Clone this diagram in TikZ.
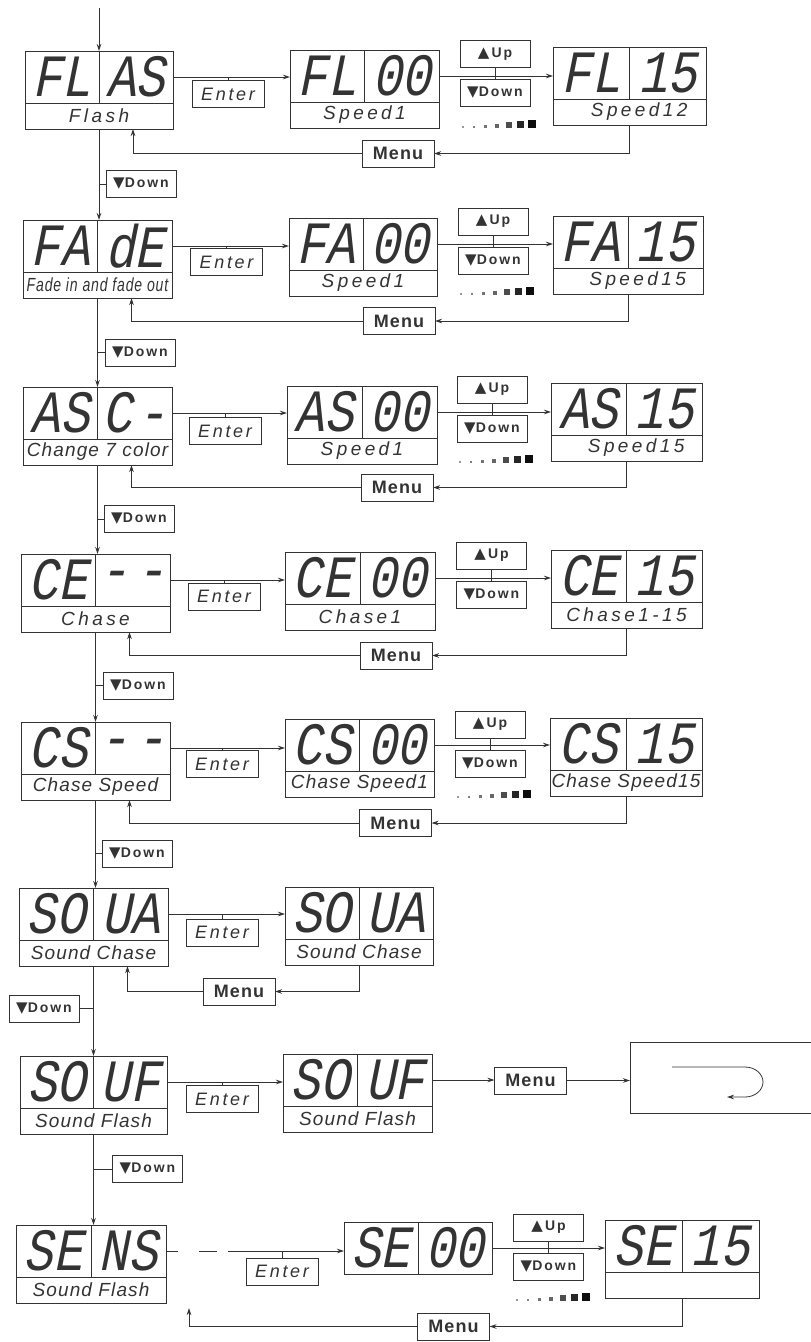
\documentclass[tikz,border=0pt]{standalone}
\usepackage{fontspec}
\setmainfont{Liberation Sans}
\newfontfamily\segfont{Liberation Mono}[FakeStretch=0.82,FakeSlant=0.2]
\newfontfamily\symfont{DejaVu Sans}
\usetikzlibrary{arrows.meta,positioning}

\newcommand{\uptri}{{\symfont\fontsize{15}{15}\selectfont ▲}}
\newcommand{\dntri}{{\symfont\fontsize{15}{15}\selectfont ▼}}

\tikzset{
  seg/.style={draw, minimum height=52, inner sep=0, outer sep=0,
    font=\segfont\fontsize{60}{60}\selectfont},
  lab/.style={draw, minimum height=26, inner sep=0, outer sep=0,
    font=\itshape\fontsize{19}{19}\selectfont\addfontfeature{LetterSpace=6}},
  wlab/.style={font=\itshape\fontsize{19}{19}\selectfont\addfontfeature{LetterSpace=18}},
  keybox/.style={draw, minimum width=70, minimum height=27, inner sep=0, outer sep=0},
  enterkey/.style={keybox, minimum width=72,
    font=\itshape\fontsize{18}{18}\selectfont\addfontfeature{LetterSpace=15}},
  menukey/.style={keybox, minimum width=72,
    font=\bfseries\fontsize{18}{18}\selectfont\addfontfeature{LetterSpace=6}},
  updown/.style={keybox, font=\bfseries\fontsize{14}{14}\selectfont\addfontfeature{LetterSpace=14}}
}

% display: [label style]{name}{x}{y}{width}{left digits}{right digits}{label}
\newcommand{\disp}[8][]{%
  \node[seg, minimum width=#5/2, anchor=north west] (#2l) at (#3,#4) {#6};
  \node[seg, minimum width=#5/2, anchor=north west] (#2r) at (#2l.north east) {#7};
  \node[lab, minimum width=#5, anchor=north west, #1] (#2b) at (#2l.south west) {#8};}

% level marks under a Down key
\newcommand{\levels}[1]{%
  \foreach \i/\s/\c in {0/2/40,1/2/50,2/3/55,3/4/60,4/6/70,5/7/85,6/8/95}
    \fill[black!\c] ([xshift=\i*11+2, yshift=-21]#1.south west) rectangle ++(\s,-\s);}

\begin{document}
\begin{tikzpicture}[x=1pt,y=-1pt,>={Stealth[length=7pt,width=4.5pt]},line width=0.8pt,color=black!80]
\useasboundingbox (0,0) rectangle (811,1342);

% flash
\disp[wlab]{flas}{25}{51}{148}{FL}{AS}{Flash}
\node[enterkey] (e1) at (228,94) {Enter};
\disp[wlab]{fl0}{290}{50}{149}{FL}{00}{Speed1}
\node[updown] (u1) at (495,54) {\uptri\,Up};
\node[updown, below=12pt of u1] (dn1) {\dntri Down};
\disp[wlab,text width=116pt,align=right]{fl1}{553}{47}{153}{FL}{15}{Speed12}
\node[menukey] (m1) at (398,153.5) {Menu};
\node[updown] (d1) at (141,184) {\dntri Down};

% fade
\disp{fade}{23}{220}{149}{FA}{dE}{\scalebox{0.74}[1]{Fade in and fade out}}
\node[enterkey] (e2) at (226.5,262) {Enter};
\disp[wlab]{fa0}{289}{218}{148}{FA}{00}{Speed1}
\node[updown] (u2) at (493,221.5) {\uptri\,Up};
\node[updown, below=12pt of u2] (dn2) {\dntri Down};
\disp[wlab,text width=116pt,align=right]{fa1}{553}{216}{150}{FA}{15}{Speed15}
\node[menukey] (m2) at (399,321) {Menu};
\node[updown] (d2) at (140,352.5) {\dntri Down};

% seven colours
\disp{asc}{23}{387}{149}{AS}{C\hspace{6pt}-}{Change 7 color}
\node[enterkey] (e3) at (225,431) {Enter};
\disp[wlab]{as0}{287}{386}{150}{AS}{00}{Speed1}
\node[updown] (u3) at (492,389.5) {\uptri\,Up};
\node[updown, below=12pt of u3] (dn3) {\dntri Down};
\disp[wlab,text width=116pt,align=right]{as1}{551}{383}{151}{AS}{15}{Speed15}
\node[menukey] (m3) at (397,487.5) {Menu};
\node[updown] (d3) at (139,519) {\dntri Down};

% chase
\disp[wlab]{ce}{21}{554}{149}{CE}{-\hspace{8pt}-}{Chase}
\node[enterkey] (e4) at (224,596.5) {Enter};
\disp[wlab]{ce0}{285}{552}{150}{CE}{00}{Chase1}
\node[updown] (u4) at (491.5,555.5) {\uptri\,Up};
\node[updown, below=12pt of u4] (dn4) {\dntri Down};
\disp[wlab]{ce1}{551}{550}{151}{CE}{15}{Chase1-15}
\node[menukey] (m4) at (396,655.5) {Menu};
\node[updown] (d4) at (138,685.5) {\dntri Down};

% chase speed
\disp{cs}{21}{722}{149}{CS}{-\hspace{8pt}-}{Chase Speed}
\node[enterkey] (e5) at (222,764) {Enter};
\disp{cs0}{285}{719}{149}{CS}{00}{Chase Speed1}
\node[updown] (u5) at (490,724.5) {\uptri\,Up};
\node[updown, below=12pt of u5] (dn5) {\dntri Down};
\disp{cs1}{550}{718}{152}{CS}{15}{Chase Speed15}
\node[menukey] (m5) at (395.5,823) {Menu};
\node[updown] (d5) at (137,853.5) {\dntri Down};

% sound chase
\disp{soua}{19}{888}{149}{SO}{UA}{Sound Chase}
\node[enterkey] (e6) at (222,932.5) {Enter};
\disp{soua0}{285}{887}{148}{SO}{UA}{Sound Chase}
\node[menukey] (m6) at (239,991.5) {Menu};
\node[updown] (d6) at (44,1008.5) {\dntri Down};

% sound flash
\disp{souf}{20}{1056}{147}{SO}{UF}{Sound Flash}
\node[enterkey] (e7) at (222,1099) {Enter};
\disp{souf0}{283}{1054}{149}{SO}{UF}{Sound Flash}
\node[menukey] (m7) at (530.5,1080.5) {Menu};
\node[minimum width=181, minimum height=71, inner sep=0, outer sep=0, anchor=west] (ret) at (630,1077.5) {};
\node[updown] (d7) at (147.5,1169) {\dntri Down};

% sensitivity
\disp{sens}{16}{1225}{150}{SE}{NS}{Sound Flash}
\node[enterkey] (e8) at (282,1271.5) {Enter};
\disp[draw=none]{se0}{344}{1222}{148}{SE}{00}{}
\node[updown] (u8) at (548.5,1227.5) {\uptri\,Up};
\node[updown, below=12pt of u8] (dn8) {\dntri Down};
\disp{se1}{605}{1220}{154}{SE}{15}{}
\node[menukey] (m8) at (453.5,1326.5) {Menu};

\coordinate (top) at (99,8);
\coordinate (back) at (189,1308);

\draw[->] (top) -- (flasl.north east);
\foreach \a/\b/\c/\n in {flas/fl0/fl1/1, fade/fa0/fa1/2, asc/as0/as1/3, ce/ce0/ce1/4, cs/cs0/cs1/5} {
  \draw[->] (\a r.east) -- (\a r.east -| \b l.west);
  \draw (e\n.north) -- (e\n.north |- \a r.east);
  \draw[->] (\b r.east) -- (\b r.east -| \c l.west);
  \draw (u\n.south) -- (dn\n.north);
  \draw[->] (\c b.south) |- (m\n.east);
  \draw[->] (m\n.west) -| ([xshift=34]\a b.south);
}
\foreach \a/\b/\n in {flas/fade/1, fade/asc/2, asc/ce/3, ce/cs/4, cs/soua/5, souf/sens/7} {
  \draw[->] (\a l.east |- \a b.south) -- (\a l.east |- \b l.north);
  \draw (d\n.west) -- (d\n.west -| \a l.east);
}
\foreach \k in {dn1,dn2,dn3,dn5,dn8} {\levels{\k}}

% sound chase links
\draw[->] (souar.east) -- (souar.east -| soua0l.west);
\draw (e6.north) -- (e6.north |- souar.east);
\draw[->] (soua0b.south) |- (m6.east);
\draw[->] (m6.west) -| ([xshift=34]souab.south);
\draw[->] (soual.east |- souab.south) -- (soual.east |- soufl.north);
\draw (d6.east) -- (d6.east -| soual.east);

% sound flash links
\draw[->] (soufr.east) -- (soufr.east -| souf0l.west);
\draw (e7.north) -- (e7.north |- soufr.east);
\draw[->] (souf0r.east) -- (souf0r.east -| m7.west);
\draw[->] (m7.east) -- (m7.east -| ret.west);
\draw (ret.north east) -- (ret.north west) -- (ret.south west) -- (ret.south east);
\draw[->] (672,1067) -- (745,1067) arc[start angle=-90, end angle=90, x radius=18, y radius=15] -- (727,1097);

% sensitivity links
\draw[->, dash pattern=on 12pt off 21pt on 18pt off 11pt on 400pt] (sensr.east) -- (sensr.east -| se0l.west);
\draw (e8.north) -- (e8.north |- sensr.east);
\draw[->] (se0r.east) -- (se0r.east -| se1l.west);
\draw (u8.south) -- (dn8.north);
\draw[->] (se1b.south) |- (m8.east);
\draw[->] (m8.west) -| (back);
\end{tikzpicture}
\end{document}
